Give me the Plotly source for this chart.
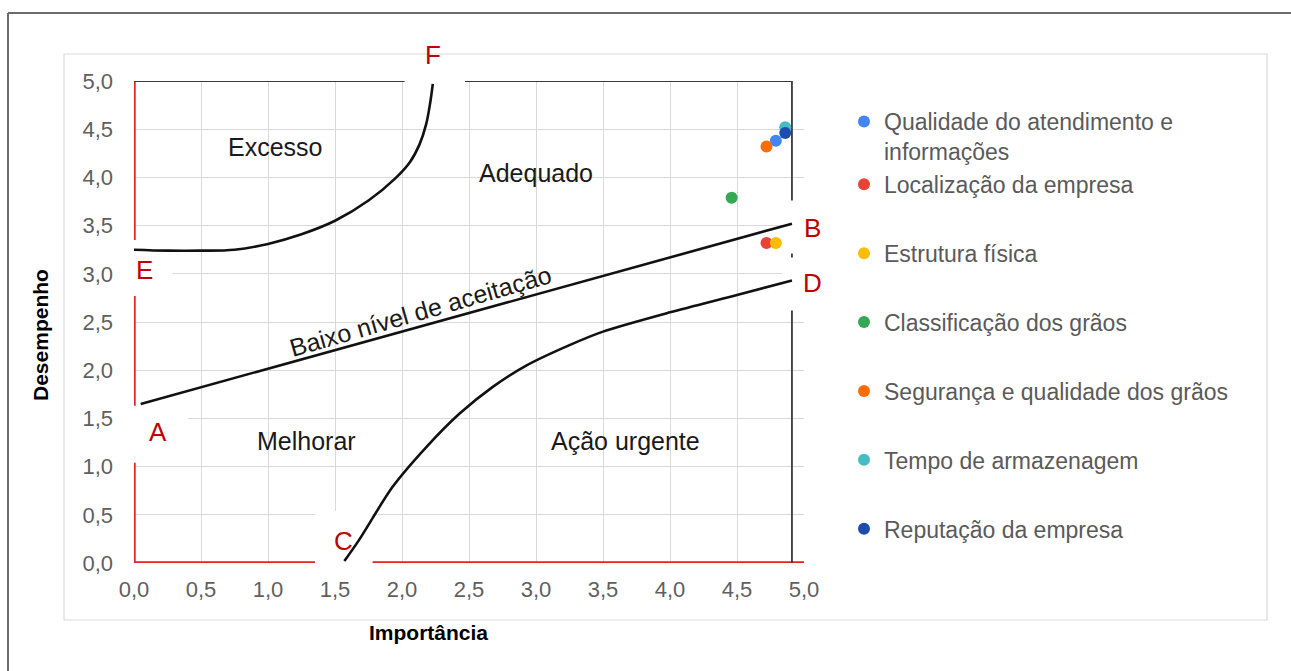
import plotly.graph_objects as go

# ---------------- data ----------------
series_names = [
    "Qualidade do atendimento e<br>informações",
    "Localização da empresa",
    "Estrutura física",
    "Classificação dos grãos",
    "Segurança e qualidade dos grãos",
    "Tempo de armazenagem",
    "Reputação da empresa",
]
importancia = [4.79, 4.72, 4.79, 4.46, 4.72, 4.86, 4.86]
desempenho = [4.38, 3.32, 3.32, 3.79, 4.32, 4.52, 4.46]
series_colors = ["#4285F4", "#EA4335", "#FBBC04", "#34A853", "#FF6D01", "#46BDC6", "#1C4DAE"]
legend_groups = ["g1", "g1", "g3", "g4", "g5", "g6", "g7"]

# boundary curves of the matrix
line_ab_x = [0.05, 4.91]
line_ab_y = [1.65, 3.52]
curve_ef_x = [0.0, 0.25, 0.5, 0.75, 1.0, 1.25, 1.5, 1.75, 1.95, 2.06, 2.13, 2.18, 2.21, 2.23]
curve_ef_y = [3.25, 3.24, 3.24, 3.25, 3.31, 3.41, 3.55, 3.76, 3.99, 4.16, 4.34, 4.55, 4.77, 4.97]
curve_cd_x = [1.57, 1.68, 1.93, 2.18, 2.43, 2.68, 2.93, 3.25, 3.5, 4.0, 4.5, 4.91]
curve_cd_y = [0.02, 0.24, 0.79, 1.20, 1.55, 1.83, 2.05, 2.26, 2.40, 2.60, 2.78, 2.93]

# region labels
region_text = ["Excesso", "Adequado", "Melhorar", "Ação urgente"]
region_x = [1.05, 3.0, 1.29, 3.67]
region_y = [4.32, 4.05, 1.27, 1.27]
diag_text = "Baixo nível de aceitação"
diag_x, diag_y = 2.14, 2.61

# corner letters
letter_text = ["F", "E", "A", "C", "B", "D"]
letter_x = [2.23, 0.08, 0.18, 1.56, 5.06, 5.06]
letter_y = [5.27, 3.04, 1.36, 0.23, 3.48, 2.90]

# ---------------- geometry ----------------
X0, X1, Y0, Y1 = 0.0, 5.0, 0.0, 5.0
FRAME_RIGHT = 4.91
W, H = 1291, 671
ML, MR, MT, MB = 134, 487, 81, 108
PW, PH = W - ML - MR, H - MT - MB

# frame segments (with gaps where the corner letters sit)
red_left_x = [0, 0, None, 0, 0, None, 0, 0]
red_left_y = [0, 1.04, None, 1.63, 2.77, None, 3.35, 5]
red_bottom_x = [0, 1.35, None, 1.78, 5.0]
red_bottom_y = [0, 0, None, 0, 0]
dark_top_x = [0, 2.02, None, 2.47, FRAME_RIGHT]
dark_top_y = [5, 5, None, 5, 5]
dark_right_x = [FRAME_RIGHT] * 2 + [None] + [FRAME_RIGHT] * 2 + [None] + [FRAME_RIGHT] * 2
dark_right_y = [0, 2.62, None, 3.17, 3.21, None, 3.76, 5]

# white areas behind the letters (hide the grid there)
boxes = [
    (2.02, 2.47, 4.94, 5.42),
    (-0.12, 0.29, 2.77, 3.35),
    (-0.12, 0.40, 1.04, 1.63),
    (1.35, 1.78, -0.10, 0.54),
    (4.84, 5.30, 3.21, 3.76),
    (4.84, 5.30, 2.62, 3.17),
]


def dx(v):
    return (v - X0) / (X1 - X0)


def dy(v):
    return (v - Y0) / (Y1 - Y0)


def px_x(p):
    return (p - ML) / PW


def px_y(p):
    return (H - MB - p) / PH


FONT = "Arial, Liberation Sans, sans-serif"
BLACK = "#111111"
RED = "#E2231F"
DARK = "#3a3a3a"

fig = go.Figure()

for xs, ys, c, w in [(red_left_x, red_left_y, RED, 3.4), (red_bottom_x, red_bottom_y, RED, 3.4),
                     (dark_top_x, dark_top_y, DARK, 2.2), (dark_right_x, dark_right_y, DARK, 1.8)]:
    fig.add_trace(go.Scatter(x=xs, y=ys, mode="lines", line=dict(color=c, width=w),
                             cliponaxis=False, showlegend=False, hoverinfo="skip"))

fig.add_trace(go.Scatter(x=line_ab_x, y=line_ab_y, mode="lines", line=dict(color=BLACK, width=2.6),
                         showlegend=False, hoverinfo="skip"))
fig.add_trace(go.Scatter(x=curve_ef_x, y=curve_ef_y, mode="lines",
                         line=dict(color=BLACK, width=2.6, shape="spline", smoothing=1.0),
                         cliponaxis=False, showlegend=False, hoverinfo="skip"))
fig.add_trace(go.Scatter(x=curve_cd_x, y=curve_cd_y, mode="lines",
                         line=dict(color=BLACK, width=2.6, shape="spline", smoothing=0.8),
                         cliponaxis=False, showlegend=False, hoverinfo="skip"))

for name, xv, yv, col, grp in zip(series_names, importancia, desempenho, series_colors, legend_groups):
    fig.add_trace(go.Scatter(x=[xv], y=[yv], mode="markers", name=name,
                             legendgroup=grp, cliponaxis=False,
                             marker=dict(color=col, size=12, line=dict(width=0))))

shapes = []
# outer picture frame
shapes.append(dict(type="line", xref="paper", yref="paper", layer="below",
                   x0=px_x(8), x1=px_x(W + 5), y0=px_y(13), y1=px_y(13),
                   line=dict(color="#6b6b6b", width=2)))
shapes.append(dict(type="line", xref="paper", yref="paper", layer="below",
                   x0=px_x(8), x1=px_x(8), y0=px_y(13), y1=px_y(H + 5),
                   line=dict(color="#6b6b6b", width=2)))
shapes.append(dict(type="rect", xref="paper", yref="paper", layer="below",
                   x0=px_x(64), x1=px_x(1267), y0=px_y(620), y1=px_y(54),
                   line=dict(color="#d9d9d9", width=1.2), fillcolor="rgba(0,0,0,0)"))

for xa, xb, ya, yb in boxes:
    shapes.append(dict(type="rect", xref="x", yref="y", layer="between",
                       x0=xa, x1=xb, y0=ya, y1=yb,
                       line=dict(width=0), fillcolor="white"))

annotations = []
ctr = dict(xanchor="center", yanchor="middle", showarrow=False, xref="x domain", yref="y domain")
for t, xv, yv in zip(region_text, region_x, region_y):
    annotations.append(dict(text=t, x=dx(xv), y=dy(yv),
                            font=dict(family=FONT, size=25, color="#1a1a1a"), **ctr))
annotations.append(dict(text=diag_text, x=dx(diag_x), y=dy(diag_y), textangle=-16,
                        font=dict(family=FONT, size=25, color="#1a1a1a"), **ctr))
for t, xv, yv in zip(letter_text, letter_x, letter_y):
    annotations.append(dict(text=t, x=dx(xv), y=dy(yv),
                            font=dict(family=FONT, size=26, color="#C00000"), **ctr))
# axis titles
annotations.append(dict(text="<b>Desempenho</b>", x=px_x(40), y=px_y(335), xref="paper", yref="paper",
                        xanchor="center", yanchor="middle", showarrow=False, textangle=-90,
                        font=dict(family=FONT, size=21, color="#000000")))
annotations.append(dict(text="<b>Importância</b>", x=px_x(428), y=px_y(632), xref="paper", yref="paper",
                        xanchor="center", yanchor="middle", showarrow=False,
                        font=dict(family=FONT, size=21, color="#000000")))

axis_common = dict(showgrid=True, gridcolor="#d9d9d9", gridwidth=1, zeroline=False,
                   showline=False, tick0=0, dtick=0.5, tickformat=".1f",
                   tickfont=dict(family=FONT, size=22, color="#5f5f5f"))

fig.update_layout(
    width=W, height=H,
    margin=dict(l=ML, r=MR, t=MT, b=MB),
    paper_bgcolor="white", plot_bgcolor="white",
    separators=", ",
    xaxis=dict(range=[X0, X1], ticklabelstandoff=11, **axis_common),
    yaxis=dict(range=[Y0, Y1], ticklabelstandoff=20, **axis_common),
    shapes=shapes,
    annotations=annotations,
    showlegend=True,
    legend=dict(x=px_x(844), y=px_y(100), xanchor="left", yanchor="top",
                font=dict(family=FONT, size=23, color="#5a5a5a"),
                valign="top", tracegroupgap=36, groupclick="toggleitem",
                bgcolor="rgba(0,0,0,0)", borderwidth=0),
    font=dict(family=FONT),
)

fig.write_html("out.html", config={"displayModeBar": False},
               post_script="document.body.style.margin='0';document.body.style.overflow='hidden';")
